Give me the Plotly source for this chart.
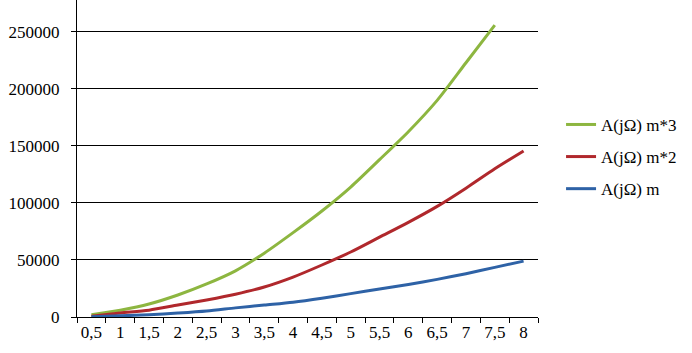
import plotly.graph_objects as go

categories = ["0,5", "1", "1,5", "2", "2,5", "3", "3,5", "4", "4,5", "5", "5,5", "6", "6,5", "7", "7,5", "8"]
a_m = [200, 1000, 2000, 3500, 5300, 8000, 10500, 13000, 16500, 20500, 24500, 28500, 33000, 38000, 43500, 49000]
a_m2 = [700, 3500, 6000, 10500, 15000, 20000, 26300, 35000, 45600, 57000, 70000, 83000, 97000, 113000, 130000, 145600]
a_m3 = [2000, 6000, 11400, 19300, 29000, 40500, 56000, 74000, 93000, 114000, 138000, 162500, 190000, 223000, 256000, None]

names = ["A(jΩ) m*3", "A(jΩ) m*2", "A(jΩ) m"]
colors = ["#8DB640", "#B0282C", "#2E62A6"]
series = [a_m3, a_m2, a_m]

font = "Times New Roman"

fig = go.Figure()
for i, (nm, col, vals) in enumerate(zip(names, colors, series)):
    fig.add_trace(go.Scatter(
        x=categories, y=vals, name=nm, mode="lines",
        line=dict(color=col, width=3, shape="spline", smoothing=0.8),
        legendgroup=f"g{i}", connectgaps=False,
    ))

fig.update_layout(
    width=692, height=353,
    margin=dict(l=77, r=154, t=0, b=36),
    paper_bgcolor="white", plot_bgcolor="white",
    font=dict(family=font, size=17, color="black"),
    showlegend=True,
    legend=dict(
        x=1.05, y=0.505, xanchor="left", yanchor="middle",
        traceorder="grouped", tracegroupgap=7,
        font=dict(family=font, size=17, color="black"),
        itemwidth=30, bgcolor="rgba(0,0,0,0)",
    ),
    xaxis=dict(
        type="category", tickson="boundaries",
        showgrid=False, showline=True, linecolor="black", linewidth=1,
        ticks="outside", ticklen=5, tickcolor="black", tickangle=0,
        tickfont=dict(family=font, size=17, color="black"),
        range=[-0.5, 15.5], fixedrange=True, automargin=False,
    ),
    yaxis=dict(
        range=[0, 278000], tickvals=[0, 50000, 100000, 150000, 200000, 250000],
        tickformat="d",
        showgrid=True, gridcolor="black", gridwidth=1,
        showline=True, linecolor="black", linewidth=1,
        ticks="outside", ticklen=5, tickcolor="black",
        ticklabelstandoff=8, automargin=False,
        zeroline=False,
        tickfont=dict(family=font, size=17, color="black"),
    ),
)

fig.write_html("out.html", config={"displayModeBar": False},
               post_script="document.body.style.margin='0';document.body.style.padding='0';")
